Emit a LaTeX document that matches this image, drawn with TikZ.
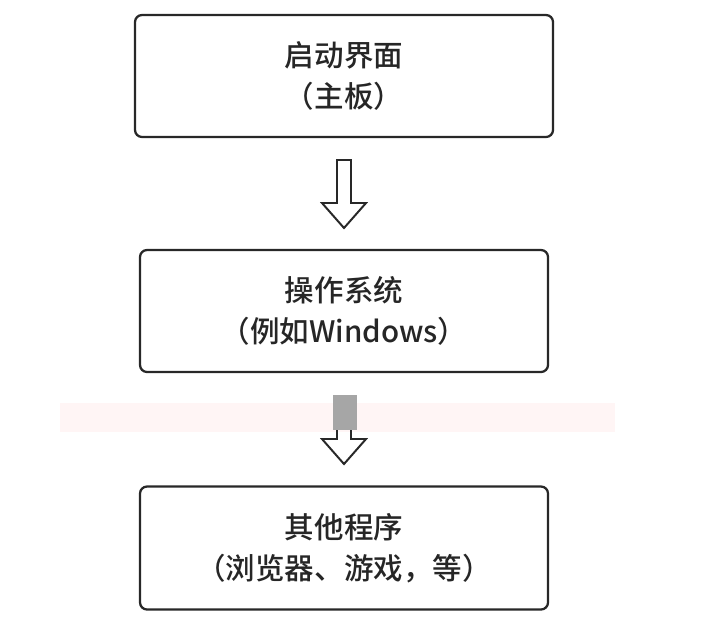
\documentclass[tikz,border=0pt]{standalone}
\usepackage{fontspec}
\setmainfont{Noto Sans CJK SC}[BoldFont={Noto Sans CJK SC Medium}]
\definecolor{boxline}{RGB}{40,40,40}
\tikzset{
  stagebox/.style={draw=boxline, line width=1.6pt, rounded corners=5pt, align=center,
    font=\fontsize{21}{29}\selectfont\bfseries, text=black!85},
  hollowarrow/.style={draw=boxline, line width=1.4pt, line join=miter}
}
% hollow down arrow: top at y, 68 long
\newcommand{\downarrowat}[2]{%
  \draw[hollowarrow] (#1-7,#2) -- (#1+7,#2) -- (#1+7,#2+43) -- (#1+22,#2+43)
    -- (#1,#2+68) -- (#1-22,#2+43) -- (#1-7,#2+43) -- cycle;}
\begin{document}
\begin{tikzpicture}[x=0.025cm, y=-0.025cm]
    \useasboundingbox (0,0) rectangle (707,639);
    % faint band
    \fill[red!4] (60,403) rectangle (615,432);

    % Stages
    \node[stagebox, minimum width=418*0.025cm, minimum height=122*0.025cm] (boot) at (344,76) {启动界面\\（主板）};
    \node[stagebox, minimum width=408*0.025cm, minimum height=122*0.025cm] (os) at (344,311) {操作系统\\（例如Windows）};
    \node[stagebox, minimum width=408*0.025cm, minimum height=123*0.025cm] (apps) at (344,548) {其他程序\\（浏览器、游戏，等）};

    % Arrows
    \downarrowat{344}{160}
    \downarrowat{344}{396}
    \fill[black!35] (333,395) rectangle (357,430);
\end{tikzpicture}
\end{document}
